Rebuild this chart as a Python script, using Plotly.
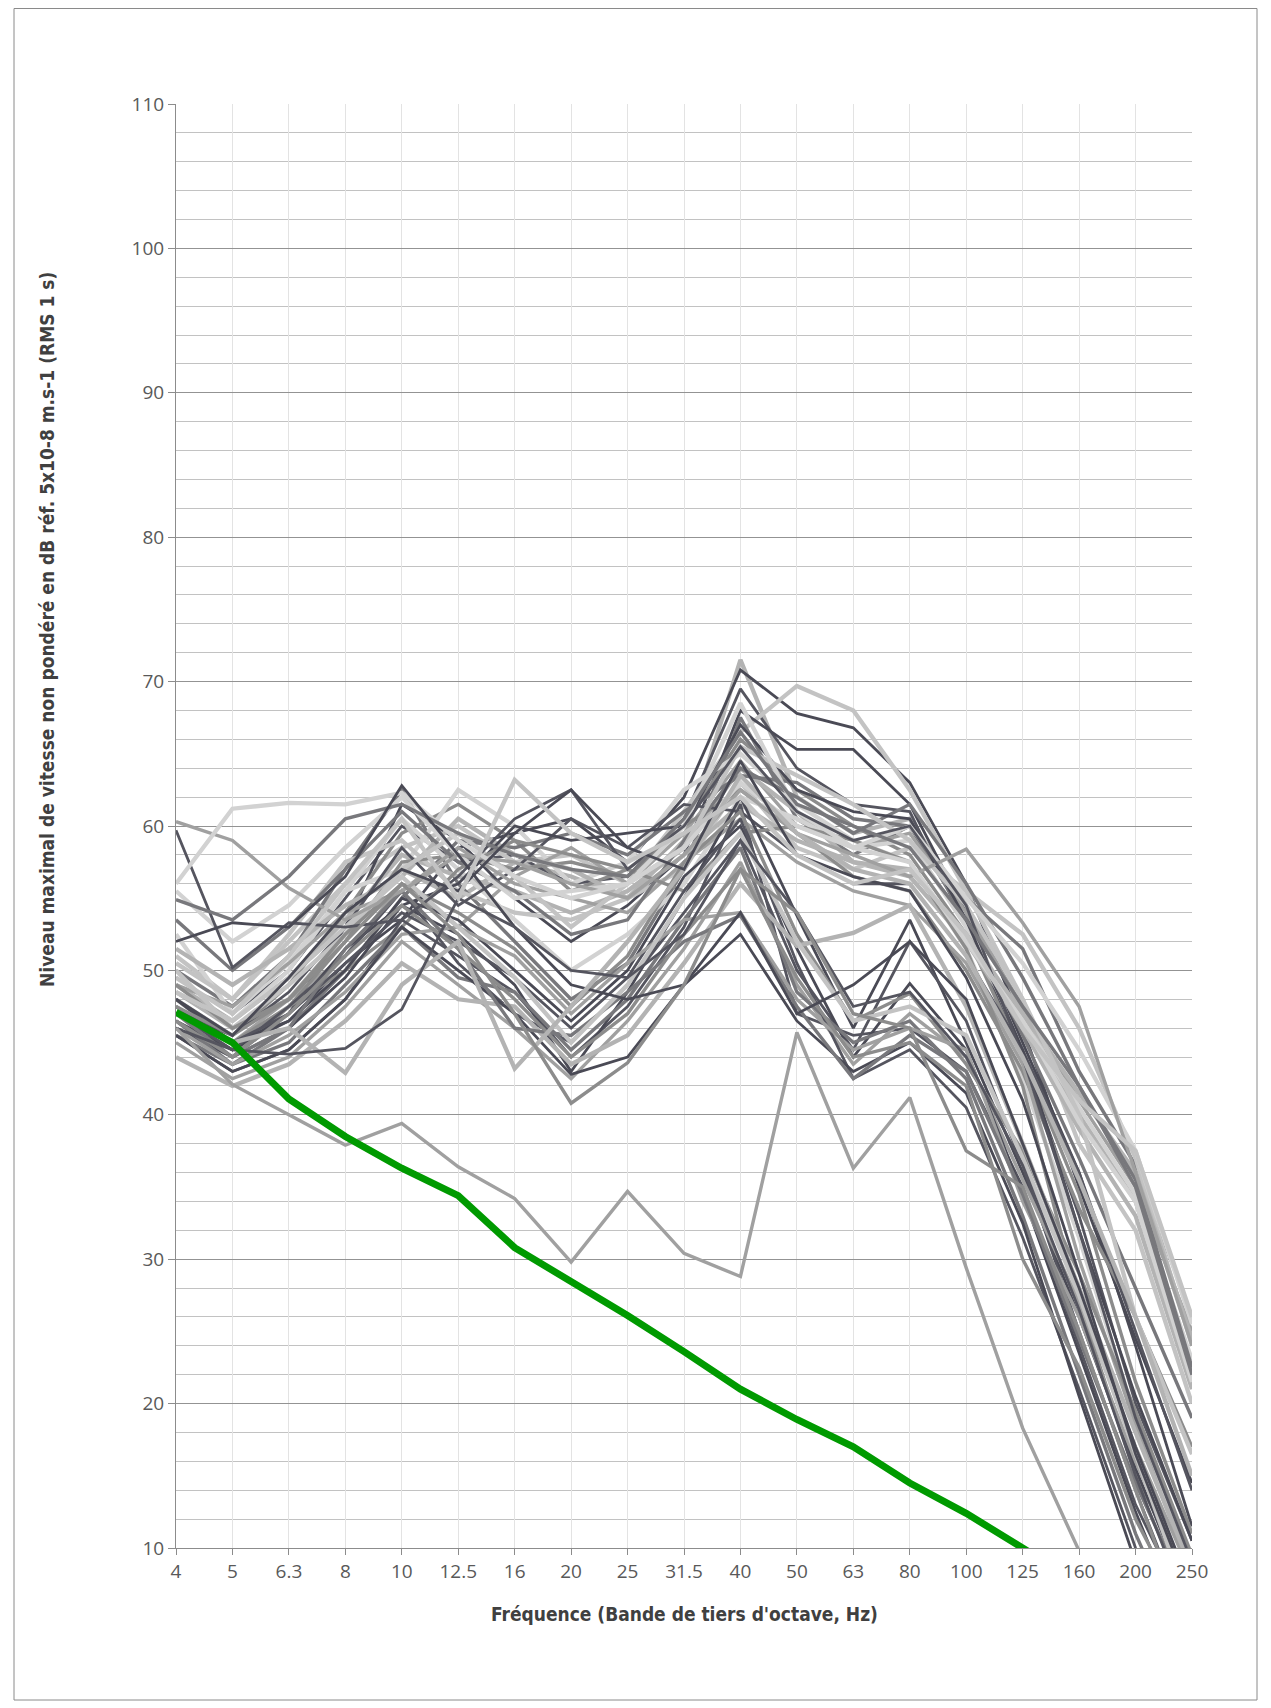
import plotly.graph_objects as go

categories = ["4", "5", "6.3", "8", "10", "12.5", "16", "20", "25", "31.5",
              "40", "50", "63", "80", "100", "125", "160", "200", "250"]

# Reference curve (green)
reference_curve = [47.1, 45.0, 41.1, 38.5, 36.3, 34.4, 30.8, 28.5, 26.1, 23.6,
                   21.0, 18.9, 17.0, 14.5, 12.4, 10.0, 7.6, 5.2, 2.8]

# Measured spectra (grey)
a01 = [48.5, 46.0, 48.0, 52.5, 57.0, 55.0, 57.5, 56.5, 55.0, 59.0, 71.5, 62.0, 59.5, 60.5, 54.5, 47.0, 40.0, 34.0, 22.0]
a02 = [47.0, 44.5, 46.5, 50.5, 53.5, 58.5, 59.5, 60.5, 57.5, 62.0, 70.8, 67.8, 66.8, 63.0, 56.0, 46.0, 35.0, 24.5, 14.5]
a03 = [49.5, 47.0, 50.0, 55.0, 60.0, 57.5, 58.0, 56.0, 56.5, 60.5, 69.5, 64.0, 61.5, 61.0, 53.0, 44.0, 33.0, 20.0, 10.5]
a04 = [51.0, 48.0, 52.0, 56.0, 58.5, 60.0, 57.5, 58.0, 56.0, 61.0, 66.5, 69.7, 68.0, 62.5, 55.5, 48.0, 38.0, 32.0, 20.0]
a05 = [46.5, 44.0, 47.0, 53.0, 61.5, 59.0, 55.0, 52.0, 54.5, 58.0, 68.0, 65.3, 65.3, 61.5, 54.0, 45.0, 36.0, 24.0, 11.5]
a06 = [50.0, 47.5, 51.0, 57.0, 62.5, 56.0, 52.0, 48.0, 50.5, 57.0, 67.5, 60.5, 58.0, 60.0, 53.5, 45.5, 37.0, 28.0, 19.0]
a07 = [48.0, 45.5, 49.0, 54.0, 59.5, 61.5, 59.0, 55.5, 57.0, 60.0, 66.0, 62.5, 60.0, 58.0, 52.5, 44.0, 34.5, 21.5, 11.0]
a08 = [52.5, 47.0, 50.5, 55.5, 57.0, 62.5, 60.0, 56.0, 57.5, 62.5, 65.0, 61.5, 59.0, 57.5, 51.5, 42.5, 31.5, 19.0, 9.0]
a09 = [47.5, 45.0, 48.0, 51.0, 56.0, 53.0, 56.5, 58.5, 56.0, 59.5, 64.5, 60.0, 58.5, 59.5, 54.0, 47.5, 41.0, 35.0, 25.0]
a10 = [49.0, 46.5, 49.5, 53.5, 58.0, 56.5, 55.5, 54.0, 55.5, 58.5, 64.0, 61.0, 57.5, 56.5, 52.0, 46.0, 39.0, 33.0, 21.0]
a11 = [45.5, 43.5, 46.0, 50.0, 55.0, 59.0, 58.5, 59.5, 58.0, 61.0, 63.5, 63.0, 60.5, 60.0, 55.0, 51.5, 43.0, 36.5, 26.0]
a12 = [50.5, 48.0, 52.5, 57.5, 59.0, 55.5, 54.0, 53.5, 55.0, 57.0, 63.0, 58.5, 57.0, 58.5, 55.5, 52.5, 46.0, 37.0, 24.0]
a13 = [46.0, 44.0, 47.5, 52.0, 57.5, 58.0, 57.0, 57.5, 56.5, 60.0, 62.5, 59.5, 56.5, 55.5, 50.0, 43.0, 33.5, 26.0, 17.0]
a14 = [48.5, 46.5, 50.0, 55.5, 60.5, 57.0, 53.5, 50.0, 52.5, 56.0, 62.0, 60.5, 58.5, 59.0, 53.0, 46.5, 40.5, 34.5, 23.0]
a15 = [51.5, 49.0, 51.5, 54.5, 56.5, 60.5, 58.0, 57.0, 55.0, 58.0, 61.5, 59.0, 57.5, 57.0, 52.5, 47.0, 41.5, 36.0, 24.5]
a16 = [47.0, 45.5, 48.5, 53.0, 58.5, 54.5, 57.0, 60.5, 58.5, 61.5, 61.0, 58.0, 56.0, 56.0, 51.0, 44.5, 36.0, 25.0, 14.0]
a17 = [49.0, 47.5, 50.5, 54.0, 55.5, 58.5, 56.0, 55.0, 54.0, 57.5, 60.5, 57.5, 55.5, 54.5, 50.5, 43.5, 30.0, 18.5, 8.0]
a18 = [53.5, 50.0, 53.0, 57.0, 61.0, 57.5, 55.5, 52.5, 53.5, 59.0, 64.0, 62.0, 59.5, 61.5, 56.0, 49.5, 42.0, 35.5, 22.5]
a19 = [46.5, 44.5, 47.0, 51.5, 54.5, 56.0, 60.0, 59.0, 59.5, 60.0, 67.0, 62.5, 61.0, 60.5, 53.5, 44.5, 32.0, 20.5, 10.5]
a20 = [50.0, 46.0, 49.0, 52.5, 57.0, 59.5, 56.5, 53.0, 56.0, 58.5, 65.5, 63.5, 61.5, 59.0, 54.5, 48.0, 40.0, 26.0, 16.5]
a21 = [48.0, 45.0, 47.5, 50.0, 53.0, 57.0, 59.0, 58.0, 57.0, 55.5, 59.5, 60.0, 59.0, 57.5, 51.5, 42.0, 27.0, 15.0, 7.5]
a22 = [55.5, 52.0, 54.5, 58.5, 62.0, 58.0, 55.0, 55.5, 56.0, 60.0, 68.5, 61.0, 58.5, 60.0, 55.0, 50.5, 44.5, 37.5, 25.5]
b01 = [45.5, 43.0, 44.5, 48.0, 53.5, 51.0, 48.5, 44.0, 47.5, 53.0, 61.5, 47.0, 45.5, 46.0, 43.0, 35.0, 24.0, 13.0, 5.0]
b02 = [46.0, 44.0, 46.0, 49.5, 54.5, 52.5, 49.0, 43.0, 48.5, 55.0, 62.0, 53.8, 46.0, 53.5, 45.0, 36.0, 26.0, 15.5, 6.0]
b03 = [47.0, 44.5, 47.5, 51.0, 55.5, 50.5, 47.0, 45.0, 49.0, 54.0, 59.0, 50.0, 44.5, 52.0, 46.5, 36.5, 25.0, 14.0, 4.0]
b04 = [45.0, 42.5, 44.0, 47.5, 52.0, 49.0, 46.0, 42.5, 46.5, 51.5, 57.5, 49.0, 43.5, 47.0, 44.0, 35.5, 27.0, 17.0, 8.0]
b05 = [48.0, 45.0, 46.5, 50.0, 55.0, 53.5, 50.0, 46.5, 50.0, 56.5, 60.0, 51.5, 44.0, 49.1, 44.5, 34.5, 23.5, 12.5, 3.0]
b06 = [46.5, 43.5, 45.0, 49.0, 53.0, 49.5, 48.5, 44.5, 48.0, 53.5, 58.5, 48.5, 45.0, 46.5, 42.5, 33.0, 22.0, 11.0, 2.0]
b07 = [49.0, 46.0, 48.0, 52.5, 56.0, 54.0, 51.5, 47.5, 51.0, 57.5, 61.0, 52.5, 46.5, 48.4, 43.5, 37.5, 29.0, 19.5, 9.5]
b08 = [47.5, 45.0, 47.0, 50.5, 54.0, 52.0, 49.5, 46.0, 49.5, 55.5, 60.5, 50.5, 42.5, 44.5, 40.5, 31.5, 21.0, 10.0, 1.0]
b09 = [44.0, 42.0, 43.5, 46.5, 50.5, 48.0, 47.5, 43.5, 45.5, 50.5, 56.0, 51.7, 52.6, 54.5, 47.5, 38.0, 28.0, 18.0, 8.5]
b10 = [46.0, 43.5, 45.5, 48.5, 52.5, 53.0, 51.0, 47.0, 50.5, 53.5, 54.0, 48.0, 44.5, 46.0, 44.5, 34.0, 26.0, 16.0, 7.0]
b11 = [45.5, 43.0, 44.5, 48.0, 53.0, 50.0, 47.0, 42.8, 44.0, 49.0, 52.5, 46.5, 43.0, 45.0, 41.5, 32.5, 20.5, 9.0, 1.0]
b12 = [47.0, 44.0, 46.0, 51.5, 55.5, 51.5, 46.0, 45.5, 48.5, 52.0, 53.8, 47.5, 42.5, 45.5, 43.0, 34.5, 24.5, 14.5, 6.0]
b13 = [48.5, 46.5, 49.5, 53.0, 56.5, 53.0, 49.5, 45.0, 49.0, 55.0, 59.5, 52.0, 46.5, 47.5, 45.5, 37.0, 27.5, 16.5, 5.5]
b14 = [46.5, 44.0, 47.0, 51.0, 54.5, 51.5, 48.0, 44.0, 47.0, 52.5, 57.0, 49.5, 44.0, 45.0, 42.0, 30.0, 22.5, 12.0, 4.5]
c01 = [60.3, 59.0, 55.7, 53.5, 55.5, 58.0, 57.5, 56.0, 55.0, 58.0, 62.5, 59.5, 58.0, 56.5, 58.4, 53.3, 47.5, 36.0, 24.0]
c02 = [59.7, 50.2, 53.3, 53.0, 53.5, 56.5, 60.5, 62.5, 57.0, 60.0, 65.5, 61.0, 59.0, 60.0, 54.5, 44.0, 32.0, 19.0, 9.0]
c03 = [56.0, 61.2, 61.6, 61.5, 62.3, 59.0, 56.5, 55.0, 56.0, 58.5, 63.0, 60.0, 58.5, 57.5, 52.0, 46.5, 39.5, 34.0, 21.5]
c04 = [54.9, 53.5, 56.5, 60.5, 61.5, 59.5, 58.0, 57.0, 56.5, 60.5, 66.5, 61.5, 60.0, 58.5, 53.5, 47.5, 42.0, 35.0, 22.0]
c05 = [52.0, 53.3, 53.0, 56.5, 62.8, 58.0, 53.0, 49.0, 48.0, 49.0, 54.0, 47.0, 49.0, 52.0, 48.0, 38.0, 28.0, 17.0, 7.0]
c06 = [47.0, 45.0, 46.0, 42.9, 49.0, 52.0, 43.2, 47.5, 52.0, 57.0, 63.5, 59.5, 57.0, 56.0, 51.0, 44.0, 35.5, 26.0, 15.0]
c07 = [46.0, 44.5, 44.2, 44.6, 47.3, 55.0, 53.0, 50.0, 49.5, 52.5, 59.0, 54.0, 47.5, 48.5, 44.0, 36.5, 26.5, 15.0, 5.0]
c08 = [47.5, 45.5, 48.0, 52.0, 56.0, 52.5, 47.0, 40.8, 43.6, 49.0, 57.0, 54.0, 47.0, 46.0, 37.5, 35.0, 25.0, 14.0, 3.5]
c09 = [48.0, 45.5, 49.5, 54.0, 57.0, 55.5, 59.5, 62.5, 58.5, 57.0, 64.5, 58.0, 56.5, 55.5, 49.5, 41.0, 29.0, 16.5, 6.5]
c10 = [49.5, 47.0, 51.0, 56.0, 60.5, 55.0, 63.2, 59.5, 57.5, 59.5, 62.0, 58.0, 56.0, 57.0, 52.5, 46.0, 41.0, 37.5, 26.0]
d01 = [46.0, 42.1, 40.0, 37.9, 39.4, 36.4, 34.2, 29.8, 34.7, 30.4, 28.8, 45.7, 36.3, 41.2, 29.4, 18.3, 9.8, 5.0, 2.0]

series = [a01, a02, a03, a04, a05, a06, a07, a08, a09, a10, a11, a12, a13, a14,
          a15, a16, a17, a18, a19, a20, a21, a22, b01, b02, b03, b04, b05, b06,
          b07, b08, b09, b10, b11, b12, b13, b14, c01, c02, c03, c04, c05, c06,
          c07, c08, c09, c10, d01]

# style per series: shade key
shade = ["L", "D", "D", "L", "D", "M", "M", "L", "M", "L", "M", "L", "M", "L",
         "L", "D", "M", "M", "D", "L", "M", "L", "D", "D", "D", "M", "D", "M",
         "M", "D", "L", "M", "D", "M", "L", "M", "M", "D", "L", "M", "D", "L",
         "D", "M", "D", "L", "M"]
palette = {"D": ["#4a4a55", "#55555f"],
           "M": ["#78787c", "#8c8c8c", "#a0a0a0"],
           "L": ["#b3b3b3", "#c3c3c3", "#d2d2d2"]}
widths = {"D": 2.8, "M": 3.4, "L": 4.3}

fig = go.Figure()
counters = {"D": 0, "M": 0, "L": 0}
for s, k in zip(series, shade):
    cols = palette[k]
    col = cols[counters[k] % len(cols)]
    counters[k] += 1
    fig.add_trace(go.Scatter(x=categories, y=s, mode="lines",
                             line=dict(color=col, width=widths[k]),
                             showlegend=False, hoverinfo="skip"))

fig.add_trace(go.Scatter(x=categories, y=reference_curve, mode="lines",
                         line=dict(color="#009a00", width=7),
                         showlegend=False))

# page has an 8px body margin: figure coordinates = page coordinates - 8
OFF = 8
W, H = 1263, 1700
L, R, T, B = 176 - OFF, 1192 - OFF, 104 - OFF, 1548 - OFF

tick_font = dict(family="Open Sans, Segoe UI, sans-serif", size=19, color="#595959")
title_font = dict(family="Liberation Sans Narrow, DejaVu Sans Condensed, Arial Narrow, sans-serif",
                  size=19, color="#404040")

fig.update_layout(
    width=W, height=H,
    margin=dict(l=L, r=W - R, t=T, b=H - B),
    paper_bgcolor="white", plot_bgcolor="white",
    xaxis=dict(type="category", range=[0, 18], showgrid=True, gridcolor="#e3e3e3",
               gridwidth=1, ticks="outside", ticklen=6, tickcolor="#8c8c8c",
               showline=True, linecolor="#8c8c8c", linewidth=1,
               tickfont=tick_font, zeroline=False, fixedrange=True),
    yaxis=dict(range=[10, 110], dtick=10, tick0=10, showgrid=True,
               gridcolor="#939393", gridwidth=1.2,
               minor=dict(dtick=2, tick0=10, showgrid=True, gridcolor="#c2c2c2", gridwidth=1),
               ticks="outside", ticklen=7, tickcolor="#8c8c8c",
               showline=True, linecolor="#8c8c8c", linewidth=1,
               tickfont=tick_font, zeroline=False, fixedrange=True),
)

def px_x(px):
    return (px - OFF - L) / (R - L)

def px_y(py):
    return (B - (py - OFF)) / (B - T)

fig.add_annotation(text="<b>Niveau maximal de vitesse non pondéré en dB réf. 5x10-8 m.s-1 (RMS 1 s)</b>",
                   xref="paper", yref="paper", x=px_x(47), y=px_y(630),
                   textangle=-90, showarrow=False, font=title_font,
                   xanchor="center", yanchor="middle")
fig.add_annotation(text="<b>Fréquence (Bande de tiers d'octave, Hz)</b>",
                   xref="paper", yref="paper", x=px_x(684), y=px_y(1614),
                   showarrow=False, font=title_font, xanchor="center", yanchor="middle")

fig.add_shape(type="rect", xref="paper", yref="paper",
              x0=px_x(14), x1=px_x(1257), y0=px_y(1700), y1=px_y(8.5),
              line=dict(color="#8a8a8a", width=1), fillcolor="rgba(0,0,0,0)", layer="below")

fig.write_html("out.html")
